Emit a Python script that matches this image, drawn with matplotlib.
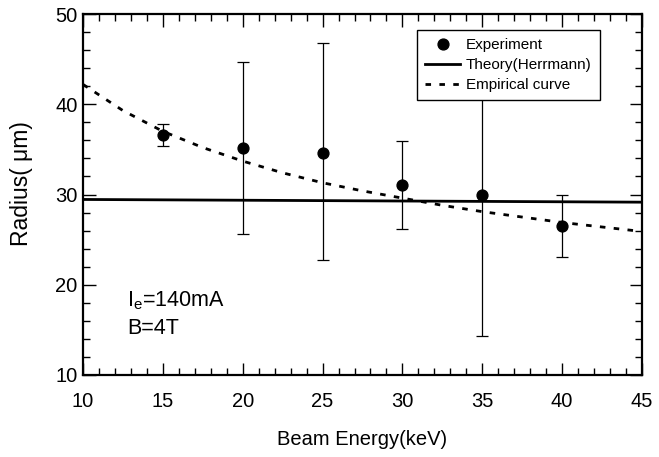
import matplotlib
matplotlib.use("Agg")
import matplotlib.pyplot as plt
from matplotlib.ticker import MultipleLocator

plt.rcParams['font.family'] = ['Liberation Sans', 'DejaVu Sans']

# Experimental data
energy = [15, 20, 25, 30, 35, 40]
radius = [36.6, 35.1, 34.6, 31.0, 29.95, 26.5]
err_top = [37.85, 44.7, 46.8, 35.9, 44.0, 29.9]
err_bot = [35.4, 25.6, 22.7, 26.2, 14.3, 23.1]

# Theory (Herrmann) line
theory_x = [10, 45]
theory_y = [29.45, 29.15]

# Empirical curve
emp_x = [10, 12.5, 15, 17.5, 20, 22.5, 25, 27.5, 30, 32.5, 35, 37.5, 40, 42.5, 45]
emp_y = [42.2, 39.3, 37.0, 35.2, 33.7, 32.4, 31.3, 30.4, 29.6, 28.8, 28.1, 27.5, 26.9, 26.4, 25.9]

xticks = [10, 15, 20, 25, 30, 35, 40, 45]
yticks = [10, 20, 30, 40, 50]

fig = plt.figure(figsize=(6.59, 4.57), dpi=100)
ax = fig.add_axes([83/659, 1-375/457, (642-83)/659, (375-14)/457])

lower = [r - b for r, b in zip(radius, err_bot)]
upper = [t - r for t, r in zip(err_top, radius)]
ax.errorbar(energy, radius, yerr=[lower, upper], fmt='none', ecolor='black',
            elinewidth=0.9, capsize=4.5, capthick=0.9, zorder=2)
ax.plot(energy, radius, 'o', color='black', markersize=7.8, label='Experiment', zorder=3)
ax.plot(theory_x, theory_y, '-', color='black', linewidth=2.0, label='Theory(Herrmann)', zorder=2)
ax.plot(emp_x, emp_y, color='black', linewidth=2.0, linestyle=(0, (2, 3)),
        label='Empirical curve', zorder=2)

ax.set_xlim(10, 45)
ax.set_ylim(10, 50)
ax.set_xticks(xticks)
ax.set_yticks(yticks)
ax.xaxis.set_minor_locator(MultipleLocator(1))
ax.yaxis.set_minor_locator(MultipleLocator(2))
ax.tick_params(which='both', direction='in', top=True, right=True, width=1.0)
ax.tick_params(which='major', length=9, labelsize=14.5)
ax.tick_params(axis='x', which='major', pad=12)
ax.tick_params(axis='y', which='major', pad=4)
ax.tick_params(which='minor', length=5)
for s in ax.spines.values():
    s.set_linewidth(1.6)

ax.set_xlabel('Beam Energy(keV)', fontsize=14.5)
ax.xaxis.set_label_coords(0.5, -0.152)
ax.set_ylabel('Radius( μm)', fontsize=16.5)
ax.yaxis.set_label_coords(-0.09, 0.53)

ax.text(0.079, 0.191, r'I$_\mathregular{e}$=140mA', transform=ax.transAxes,
        fontsize=15.5, va='baseline')
ax.text(0.079, 0.114, 'B=4T', transform=ax.transAxes, fontsize=15.5, va='baseline')

leg = ax.legend(loc='upper left', bbox_to_anchor=(0.597, 0.956), fontsize=11,
                frameon=True, fancybox=False, edgecolor='black', framealpha=1,
                handlelength=2.3, handletextpad=0.35, labelspacing=0.38,
                borderpad=0.55, borderaxespad=0)
leg.get_frame().set_linewidth(1.0)

fig.savefig('out.png', dpi=100)
